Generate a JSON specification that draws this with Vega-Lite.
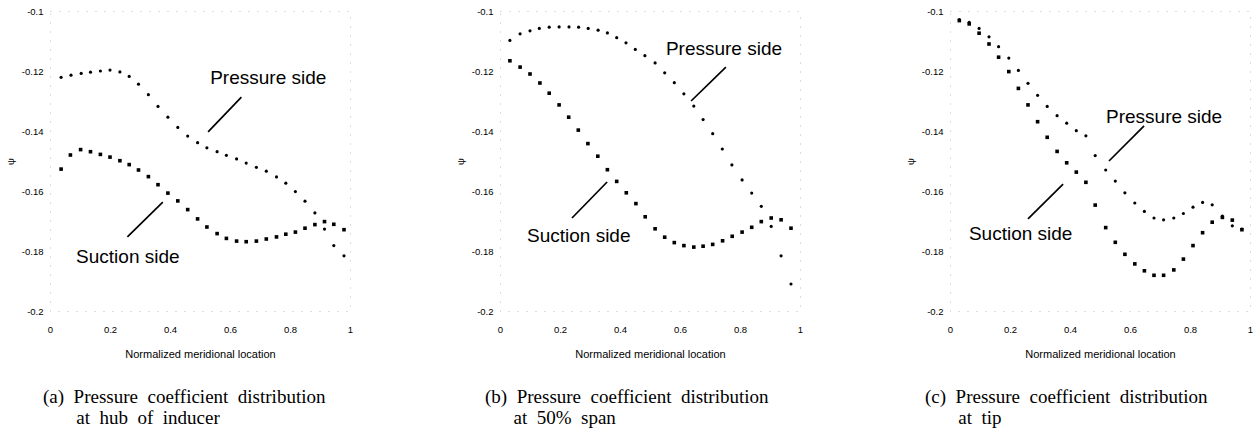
{
"$schema": "https://vega.github.io/schema/vega-lite/v6.json",
"padding": {"left": 4, "top": 5, "right": 5, "bottom": 5},
"background": "white",
"bounds": "flush",
"spacing": 150,
"datasets": {
"pts": [
{"p":"a","side":"pressure","m":0.037,"psi":-0.1221},{"p":"a","side":"pressure","m":0.070,"psi":-0.1214},{"p":"a","side":"pressure","m":0.104,"psi":-0.1208},{"p":"a","side":"pressure","m":0.135,"psi":-0.1204},{"p":"a","side":"pressure","m":0.168,"psi":-0.1200},{"p":"a","side":"pressure","m":0.200,"psi":-0.1197},{"p":"a","side":"pressure","m":0.233,"psi":-0.1203},{"p":"a","side":"pressure","m":0.264,"psi":-0.1218},{"p":"a","side":"pressure","m":0.295,"psi":-0.1244},{"p":"a","side":"pressure","m":0.328,"psi":-0.1279},{"p":"a","side":"pressure","m":0.360,"psi":-0.1318},{"p":"a","side":"pressure","m":0.393,"psi":-0.1354},{"p":"a","side":"pressure","m":0.426,"psi":-0.1388},{"p":"a","side":"pressure","m":0.459,"psi":-0.1417},{"p":"a","side":"pressure","m":0.492,"psi":-0.1439},{"p":"a","side":"pressure","m":0.523,"psi":-0.1456},{"p":"a","side":"pressure","m":0.557,"psi":-0.1469},{"p":"a","side":"pressure","m":0.588,"psi":-0.1481},{"p":"a","side":"pressure","m":0.622,"psi":-0.1493},{"p":"a","side":"pressure","m":0.654,"psi":-0.1507},{"p":"a","side":"pressure","m":0.688,"psi":-0.1521},{"p":"a","side":"pressure","m":0.721,"psi":-0.1534},{"p":"a","side":"pressure","m":0.755,"psi":-0.1553},{"p":"a","side":"pressure","m":0.786,"psi":-0.1574},{"p":"a","side":"pressure","m":0.818,"psi":-0.1602},{"p":"a","side":"pressure","m":0.850,"psi":-0.1634},{"p":"a","side":"pressure","m":0.883,"psi":-0.1673},{"p":"a","side":"pressure","m":0.915,"psi":-0.1727},{"p":"a","side":"pressure","m":0.946,"psi":-0.1782},{"p":"a","side":"pressure","m":0.980,"psi":-0.1816},
{"p":"a","side":"suction","m":0.037,"psi":-0.1527},{"p":"a","side":"suction","m":0.068,"psi":-0.1480},{"p":"a","side":"suction","m":0.102,"psi":-0.1462},{"p":"a","side":"suction","m":0.135,"psi":-0.1469},{"p":"a","side":"suction","m":0.168,"psi":-0.1478},{"p":"a","side":"suction","m":0.200,"psi":-0.1487},{"p":"a","side":"suction","m":0.233,"psi":-0.1499},{"p":"a","side":"suction","m":0.264,"psi":-0.1512},{"p":"a","side":"suction","m":0.295,"psi":-0.1530},{"p":"a","side":"suction","m":0.328,"psi":-0.1552},{"p":"a","side":"suction","m":0.360,"psi":-0.1579},{"p":"a","side":"suction","m":0.393,"psi":-0.1607},{"p":"a","side":"suction","m":0.426,"psi":-0.1633},{"p":"a","side":"suction","m":0.459,"psi":-0.1662},{"p":"a","side":"suction","m":0.492,"psi":-0.1693},{"p":"a","side":"suction","m":0.523,"psi":-0.1720},{"p":"a","side":"suction","m":0.557,"psi":-0.1742},{"p":"a","side":"suction","m":0.588,"psi":-0.1758},{"p":"a","side":"suction","m":0.622,"psi":-0.1767},{"p":"a","side":"suction","m":0.654,"psi":-0.1769},{"p":"a","side":"suction","m":0.688,"psi":-0.1767},{"p":"a","side":"suction","m":0.721,"psi":-0.1760},{"p":"a","side":"suction","m":0.755,"psi":-0.1753},{"p":"a","side":"suction","m":0.786,"psi":-0.1744},{"p":"a","side":"suction","m":0.818,"psi":-0.1737},{"p":"a","side":"suction","m":0.850,"psi":-0.1724},{"p":"a","side":"suction","m":0.883,"psi":-0.1712},{"p":"a","side":"suction","m":0.915,"psi":-0.1702},{"p":"a","side":"suction","m":0.946,"psi":-0.1711},{"p":"a","side":"suction","m":0.980,"psi":-0.1729},
{"p":"b","side":"pressure","m":0.033,"psi":-0.1098},{"p":"b","side":"pressure","m":0.067,"psi":-0.1076},{"p":"b","side":"pressure","m":0.100,"psi":-0.1066},{"p":"b","side":"pressure","m":0.131,"psi":-0.1058},{"p":"b","side":"pressure","m":0.164,"psi":-0.1054},{"p":"b","side":"pressure","m":0.197,"psi":-0.1053},{"p":"b","side":"pressure","m":0.230,"psi":-0.1053},{"p":"b","side":"pressure","m":0.262,"psi":-0.1054},{"p":"b","side":"pressure","m":0.294,"psi":-0.1058},{"p":"b","side":"pressure","m":0.327,"psi":-0.1064},{"p":"b","side":"pressure","m":0.358,"psi":-0.1073},{"p":"b","side":"pressure","m":0.389,"psi":-0.1089},{"p":"b","side":"pressure","m":0.420,"psi":-0.1106},{"p":"b","side":"pressure","m":0.451,"psi":-0.1128},{"p":"b","side":"pressure","m":0.483,"psi":-0.1149},{"p":"b","side":"pressure","m":0.517,"psi":-0.1173},{"p":"b","side":"pressure","m":0.549,"psi":-0.1206},{"p":"b","side":"pressure","m":0.581,"psi":-0.1239},{"p":"b","side":"pressure","m":0.613,"psi":-0.1276},{"p":"b","side":"pressure","m":0.646,"psi":-0.1317},{"p":"b","side":"pressure","m":0.677,"psi":-0.1362},{"p":"b","side":"pressure","m":0.709,"psi":-0.1409},{"p":"b","side":"pressure","m":0.741,"psi":-0.1460},{"p":"b","side":"pressure","m":0.773,"psi":-0.1513},{"p":"b","side":"pressure","m":0.807,"psi":-0.1563},{"p":"b","side":"pressure","m":0.839,"psi":-0.1607},{"p":"b","side":"pressure","m":0.871,"psi":-0.1651},{"p":"b","side":"pressure","m":0.904,"psi":-0.1718},{"p":"b","side":"pressure","m":0.937,"psi":-0.1816},{"p":"b","side":"pressure","m":0.970,"psi":-0.1910},
{"p":"b","side":"suction","m":0.033,"psi":-0.1166},{"p":"b","side":"suction","m":0.067,"psi":-0.1187},{"p":"b","side":"suction","m":0.100,"psi":-0.1210},{"p":"b","side":"suction","m":0.133,"psi":-0.1240},{"p":"b","side":"suction","m":0.164,"psi":-0.1274},{"p":"b","side":"suction","m":0.197,"psi":-0.1313},{"p":"b","side":"suction","m":0.229,"psi":-0.1354},{"p":"b","side":"suction","m":0.261,"psi":-0.1397},{"p":"b","side":"suction","m":0.293,"psi":-0.1442},{"p":"b","side":"suction","m":0.326,"psi":-0.1484},{"p":"b","side":"suction","m":0.358,"psi":-0.1529},{"p":"b","side":"suction","m":0.389,"psi":-0.1568},{"p":"b","side":"suction","m":0.421,"psi":-0.1606},{"p":"b","side":"suction","m":0.453,"psi":-0.1642},{"p":"b","side":"suction","m":0.484,"psi":-0.1686},{"p":"b","side":"suction","m":0.517,"psi":-0.1726},{"p":"b","side":"suction","m":0.549,"psi":-0.1754},{"p":"b","side":"suction","m":0.581,"psi":-0.1772},{"p":"b","side":"suction","m":0.613,"psi":-0.1782},{"p":"b","side":"suction","m":0.646,"psi":-0.1787},{"p":"b","side":"suction","m":0.677,"psi":-0.1784},{"p":"b","side":"suction","m":0.709,"psi":-0.1778},{"p":"b","side":"suction","m":0.742,"psi":-0.1766},{"p":"b","side":"suction","m":0.774,"psi":-0.1751},{"p":"b","side":"suction","m":0.807,"psi":-0.1737},{"p":"b","side":"suction","m":0.839,"psi":-0.1721},{"p":"b","side":"suction","m":0.871,"psi":-0.1702},{"p":"b","side":"suction","m":0.904,"psi":-0.1690},{"p":"b","side":"suction","m":0.937,"psi":-0.1696},{"p":"b","side":"suction","m":0.970,"psi":-0.1724},
{"p":"c","side":"pressure","m":0.031,"psi":-0.1029},{"p":"c","side":"pressure","m":0.064,"psi":-0.1038},{"p":"c","side":"pressure","m":0.097,"psi":-0.1058},{"p":"c","side":"pressure","m":0.130,"psi":-0.1086},{"p":"c","side":"pressure","m":0.162,"psi":-0.1119},{"p":"c","side":"pressure","m":0.196,"psi":-0.1157},{"p":"c","side":"pressure","m":0.228,"psi":-0.1198},{"p":"c","side":"pressure","m":0.260,"psi":-0.1241},{"p":"c","side":"pressure","m":0.292,"psi":-0.1281},{"p":"c","side":"pressure","m":0.324,"psi":-0.1318},{"p":"c","side":"pressure","m":0.357,"psi":-0.1349},{"p":"c","side":"pressure","m":0.389,"psi":-0.1374},{"p":"c","side":"pressure","m":0.421,"psi":-0.1399},{"p":"c","side":"pressure","m":0.453,"psi":-0.1416},{"p":"c","side":"pressure","m":0.484,"psi":-0.1482},{"p":"c","side":"pressure","m":0.519,"psi":-0.1530},{"p":"c","side":"pressure","m":0.551,"psi":-0.1567},{"p":"c","side":"pressure","m":0.583,"psi":-0.1606},{"p":"c","side":"pressure","m":0.616,"psi":-0.1640},{"p":"c","side":"pressure","m":0.648,"psi":-0.1668},{"p":"c","side":"pressure","m":0.680,"psi":-0.1690},{"p":"c","side":"pressure","m":0.712,"psi":-0.1696},{"p":"c","side":"pressure","m":0.746,"psi":-0.1690},{"p":"c","side":"pressure","m":0.778,"psi":-0.1675},{"p":"c","side":"pressure","m":0.810,"psi":-0.1654},{"p":"c","side":"pressure","m":0.842,"psi":-0.1638},{"p":"c","side":"pressure","m":0.874,"psi":-0.1646},{"p":"c","side":"pressure","m":0.908,"psi":-0.1684},{"p":"c","side":"pressure","m":0.941,"psi":-0.1716},{"p":"c","side":"pressure","m":0.973,"psi":-0.1727},
{"p":"c","side":"suction","m":0.031,"psi":-0.1032},{"p":"c","side":"suction","m":0.064,"psi":-0.1043},{"p":"c","side":"suction","m":0.097,"psi":-0.1074},{"p":"c","side":"suction","m":0.130,"psi":-0.1110},{"p":"c","side":"suction","m":0.162,"psi":-0.1154},{"p":"c","side":"suction","m":0.196,"psi":-0.1202},{"p":"c","side":"suction","m":0.228,"psi":-0.1258},{"p":"c","side":"suction","m":0.260,"psi":-0.1313},{"p":"c","side":"suction","m":0.292,"psi":-0.1369},{"p":"c","side":"suction","m":0.324,"psi":-0.1421},{"p":"c","side":"suction","m":0.357,"psi":-0.1468},{"p":"c","side":"suction","m":0.389,"psi":-0.1506},{"p":"c","side":"suction","m":0.421,"psi":-0.1537},{"p":"c","side":"suction","m":0.453,"psi":-0.1571},{"p":"c","side":"suction","m":0.484,"psi":-0.1647},{"p":"c","side":"suction","m":0.519,"psi":-0.1722},{"p":"c","side":"suction","m":0.551,"psi":-0.1771},{"p":"c","side":"suction","m":0.583,"psi":-0.1811},{"p":"c","side":"suction","m":0.616,"psi":-0.1843},{"p":"c","side":"suction","m":0.648,"psi":-0.1866},{"p":"c","side":"suction","m":0.680,"psi":-0.1881},{"p":"c","side":"suction","m":0.712,"psi":-0.1881},{"p":"c","side":"suction","m":0.746,"psi":-0.1863},{"p":"c","side":"suction","m":0.778,"psi":-0.1827},{"p":"c","side":"suction","m":0.810,"psi":-0.1782},{"p":"c","side":"suction","m":0.842,"psi":-0.1739},{"p":"c","side":"suction","m":0.874,"psi":-0.1704},{"p":"c","side":"suction","m":0.908,"psi":-0.1688},{"p":"c","side":"suction","m":0.941,"psi":-0.1697},{"p":"c","side":"suction","m":0.973,"psi":-0.1729}
],
"notes": [
{"p":"a","label":"Pressure side","m":0.534,"psi":-0.1223},
{"p":"a","label":"Suction side","m":0.087,"psi":-0.1820},
{"p":"b","label":"Pressure side","m":0.553,"psi":-0.1127},
{"p":"b","label":"Suction side","m":0.090,"psi":-0.1750},
{"p":"c","label":"Pressure side","m":0.520,"psi":-0.1353},
{"p":"c","label":"Suction side","m":0.063,"psi":-0.1743}
],
"leaders": [
{"p":"a","m":0.527,"psi":-0.1403,"m2":0.638,"psi2":-0.1287},
{"p":"a","m":0.258,"psi":-0.1753,"m2":0.376,"psi2":-0.1637},
{"p":"b","m":0.637,"psi":-0.1300,"m2":0.753,"psi2":-0.1187},
{"p":"b","m":0.240,"psi":-0.1690,"m2":0.357,"psi2":-0.1570},
{"p":"c","m":0.530,"psi":-0.1500,"m2":0.647,"psi2":-0.1383},
{"p":"c","m":0.260,"psi":-0.1693,"m2":0.377,"psi2":-0.1577}
]
},
"hconcat": [
{
"width": 300, "height": 300,
"title": {"text": ["(a)\u00a0 Pressure\u00a0 coefficient\u00a0 distribution", "\u200b\u00a0\u00a0\u00a0\u00a0\u00a0\u00a0\u00a0at\u00a0 hub\u00a0 of\u00a0 inducer"], "orient": "bottom", "anchor": "start", "frame": "group", "dx": -7, "offset": 28},
"layer": [
{"data": {"name": "pts"}, "transform": [{"filter": "datum.p === 'a'"}],
 "mark": {"type": "point", "filled": true, "color": "black", "opacity": 1},
 "encoding": {
  "x": {"field": "m", "type": "quantitative", "scale": {"domain": [0, 1], "nice": false, "zero": false}, "axis": {"title": "Normalized meridional location", "values": [0, 0.2, 0.4, 0.6, 0.8, 1], "format": "~g"}},
  "y": {"field": "psi", "type": "quantitative", "scale": {"domain": [-0.2, -0.1], "nice": false, "zero": false}, "axis": {"title": "ψ", "values": [-0.2, -0.18, -0.16, -0.14, -0.12, -0.1], "format": "~g", "labelExpr": "replace(datum.label, '\u2212', '-')"}},
  "shape": {"field": "side", "type": "nominal", "scale": {"domain": ["pressure", "suction"], "range": ["circle", "square"]}, "legend": null},
  "size": {"field": "side", "type": "nominal", "scale": {"domain": ["pressure", "suction"], "range": [10, 13]}, "legend": null}
 }},
{"data": {"name": "leaders"}, "transform": [{"filter": "datum.p === 'a'"}],
 "mark": {"type": "rule", "color": "black", "strokeWidth": 1.7},
 "encoding": {"x": {"field": "m", "type": "quantitative"}, "y": {"field": "psi", "type": "quantitative"}, "x2": {"field": "m2"}, "y2": {"field": "psi2"}}},
{"data": {"name": "notes"}, "transform": [{"filter": "datum.p === 'a'"}],
 "mark": {"type": "text", "align": "left", "baseline": "middle", "font": "Liberation Sans", "fontSize": 19, "color": "black"},
 "encoding": {"x": {"field": "m", "type": "quantitative"}, "y": {"field": "psi", "type": "quantitative"}, "text": {"field": "label"}}}
]
},
{
"width": 300, "height": 300,
"title": {"text": ["(b)\u00a0 Pressure\u00a0 coefficient\u00a0 distribution", "\u200b\u00a0\u00a0\u00a0\u00a0\u00a0\u00a0at\u00a0 50%\u00a0 span"], "orient": "bottom", "anchor": "start", "frame": "group", "dx": -15, "offset": 28},
"layer": [
{"data": {"name": "pts"}, "transform": [{"filter": "datum.p === 'b'"}],
 "mark": {"type": "point", "filled": true, "color": "black", "opacity": 1},
 "encoding": {
  "x": {"field": "m", "type": "quantitative", "scale": {"domain": [0, 1], "nice": false, "zero": false}, "axis": {"title": "Normalized meridional location", "values": [0, 0.2, 0.4, 0.6, 0.8, 1], "format": "~g"}},
  "y": {"field": "psi", "type": "quantitative", "scale": {"domain": [-0.2, -0.1], "nice": false, "zero": false}, "axis": {"title": "ψ", "values": [-0.2, -0.18, -0.16, -0.14, -0.12, -0.1], "format": "~g", "labelExpr": "replace(datum.label, '\u2212', '-')"}},
  "shape": {"field": "side", "type": "nominal", "scale": {"domain": ["pressure", "suction"], "range": ["circle", "square"]}, "legend": null},
  "size": {"field": "side", "type": "nominal", "scale": {"domain": ["pressure", "suction"], "range": [10, 13]}, "legend": null}
 }},
{"data": {"name": "leaders"}, "transform": [{"filter": "datum.p === 'b'"}],
 "mark": {"type": "rule", "color": "black", "strokeWidth": 1.7},
 "encoding": {"x": {"field": "m", "type": "quantitative"}, "y": {"field": "psi", "type": "quantitative"}, "x2": {"field": "m2"}, "y2": {"field": "psi2"}}},
{"data": {"name": "notes"}, "transform": [{"filter": "datum.p === 'b'"}],
 "mark": {"type": "text", "align": "left", "baseline": "middle", "font": "Liberation Sans", "fontSize": 19, "color": "black"},
 "encoding": {"x": {"field": "m", "type": "quantitative"}, "y": {"field": "psi", "type": "quantitative"}, "text": {"field": "label"}}}
]
},
{
"width": 300, "height": 300,
"title": {"text": ["(c)\u00a0 Pressure\u00a0 coefficient\u00a0 distribution", "\u200b\u00a0\u00a0\u00a0\u00a0\u00a0\u00a0\u00a0at\u00a0 tip"], "orient": "bottom", "anchor": "start", "frame": "group", "dx": -25, "offset": 28},
"layer": [
{"data": {"name": "pts"}, "transform": [{"filter": "datum.p === 'c'"}],
 "mark": {"type": "point", "filled": true, "color": "black", "opacity": 1},
 "encoding": {
  "x": {"field": "m", "type": "quantitative", "scale": {"domain": [0, 1], "nice": false, "zero": false}, "axis": {"title": "Normalized meridional location", "values": [0, 0.2, 0.4, 0.6, 0.8, 1], "format": "~g"}},
  "y": {"field": "psi", "type": "quantitative", "scale": {"domain": [-0.2, -0.1], "nice": false, "zero": false}, "axis": {"title": "ψ", "values": [-0.2, -0.18, -0.16, -0.14, -0.12, -0.1], "format": "~g", "labelExpr": "replace(datum.label, '\u2212', '-')"}},
  "shape": {"field": "side", "type": "nominal", "scale": {"domain": ["pressure", "suction"], "range": ["circle", "square"]}, "legend": null},
  "size": {"field": "side", "type": "nominal", "scale": {"domain": ["pressure", "suction"], "range": [10, 13]}, "legend": null}
 }},
{"data": {"name": "leaders"}, "transform": [{"filter": "datum.p === 'c'"}],
 "mark": {"type": "rule", "color": "black", "strokeWidth": 1.7},
 "encoding": {"x": {"field": "m", "type": "quantitative"}, "y": {"field": "psi", "type": "quantitative"}, "x2": {"field": "m2"}, "y2": {"field": "psi2"}}},
{"data": {"name": "notes"}, "transform": [{"filter": "datum.p === 'c'"}],
 "mark": {"type": "text", "align": "left", "baseline": "middle", "font": "Liberation Sans", "fontSize": 19, "color": "black"},
 "encoding": {"x": {"field": "m", "type": "quantitative"}, "y": {"field": "psi", "type": "quantitative"}, "text": {"field": "label"}}}
]
}
],
"config": {
 "view": {"stroke": "#bdbdbd", "strokeDash": [1, 8], "strokeWidth": 1},
 "title": {"font": "Liberation Serif", "fontSize": 19, "fontWeight": "normal", "lineHeight": 21, "color": "black"},
 "axis": {"domain": false, "ticks": false, "grid": false, "labelFont": "Liberation Sans", "labelFontSize": 9.5, "labelColor": "black", "labelFlush": false, "labelOverlap": false, "titleFont": "Liberation Sans", "titleFontWeight": "normal", "titleColor": "black"},
 "axisX": {"labelPadding": 13, "titleFontSize": 11, "titlePadding": 15},
 "axisY": {"labelPadding": 7, "titleFontSize": 9.5, "titlePadding": 6}
}
}
